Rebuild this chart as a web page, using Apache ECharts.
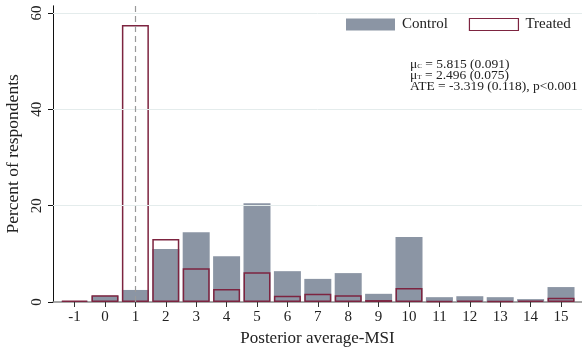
<!DOCTYPE html>
<html><head><meta charset="utf-8">
<script src="https://cdn.jsdelivr.net/npm/echarts@6/dist/echarts.min.js"></script>
<style>html,body{margin:0;padding:0;background:#fff}#c{width:582px;height:352px}</style>
</head><body><div id="c"></div>
<script>
const categories = [-1,0,1,2,3,4,5,6,7,8,9,10,11,12,13,14,15];
const controlValues = [0.2,1.3,2.5,11.0,14.5,9.5,20.5,6.4,4.8,6.0,1.7,13.5,1.0,1.2,1.0,0.6,3.1];
const treatedValues = [0.3,1.4,57.5,13.1,7.0,2.7,6.2,1.3,1.7,1.4,0.4,2.9,0.2,0.3,0.2,0.3,0.9];
const yTicks = [0,20,40,60];
const gridLines = [20,40,60];
const refLineX = 1;

const font = '"Liberation Serif", "DejaVu Serif", serif';
const chart = echarts.init(document.getElementById('c'));
chart.setOption({
  animation:false,
  textStyle:{fontFamily:font},
  grid:{left:53,right:0,top:5.8,bottom:50,containLabel:false,outerBoundsMode:'none'},
  legend:{
    left:346, top:17, padding:0, itemWidth:49, itemHeight:12, itemGap:21,
    textStyle:{fontFamily:font,fontSize:15,color:'#222',padding:[0,0,0,2]},
    data:[
      {name:'Control',icon:'rect',itemStyle:{color:'#8b95a4',borderWidth:0}},
      {name:'Treated',icon:'rect',itemStyle:{color:'#fff',borderColor:'#7d2440',borderWidth:1.2}}
    ]
  },
  xAxis:{
    type:'value', min:-1.71, max:15.69,
    name:'Posterior average-MSI', nameLocation:'middle', nameGap:28,
    nameTextStyle:{fontFamily:font,fontSize:17,color:'#222'},
    axisLine:{show:true,onZero:false,lineStyle:{color:'#8a8a8a',width:1.5}},
    axisTick:{show:true,customValues:categories,length:5,lineStyle:{color:'#333'}},
    axisLabel:{customValues:categories,fontFamily:font,fontSize:15,color:'#222',margin:8},
    splitLine:{show:false}
  },
  yAxis:{
    type:'value', min:0, max:61.5,
    name:'Percent of respondents', nameLocation:'middle', nameGap:27,
    nameTextStyle:{fontFamily:font,fontSize:17.5,color:'#222'},
    axisLine:{show:true,onZero:false,lineStyle:{color:'#111',width:1}},
    axisTick:{show:true,customValues:yTicks,length:5,lineStyle:{color:'#111'}},
    axisLabel:{customValues:yTicks,rotate:90,fontFamily:font,fontSize:15,color:'#222',margin:8},
    splitLine:{show:false}
  },
  series:[
    {
      name:'grid', type:'line', data:[], silent:true,
      markLine:{silent:true,symbol:'none',label:{show:false},
        lineStyle:{color:'#e4ecec',type:'solid',width:1},
        data:gridLines.map(v=>({yAxis:v}))}
    },
    {
      name:'Control', type:'bar', barWidth:27, barGap:'-100%', z:2,
      itemStyle:{color:'#8b95a4'},
      data:categories.map((c,i)=>[c,controlValues[i]])
    },
    {
      name:'Treated', type:'bar', barWidth:27, barGap:'-100%', z:3,
      itemStyle:{color:'rgba(0,0,0,0)',borderColor:'#7d2440',borderWidth:1.5},
      data:categories.map((c,i)=>[c,treatedValues[i]]),
      markLine:{silent:true,symbol:'none',label:{show:false},z:5,
        lineStyle:{color:'#999',type:[6,4],width:1.2},
        data:[{xAxis:refLineX}]}
    }
  ],
  graphic:[{
    type:'text', left:410, top:57,
    style:{
      text:'μ{s|C} = 5.815 (0.091)\nμ{s|T} = 2.496 (0.075)\nATE = -3.319 (0.118), p<0.001',
      fontFamily:font, fontSize:13.5, lineHeight:11, fill:'#222',
      rich:{s:{fontSize:7,fontFamily:font,fill:'#222',verticalAlign:'bottom',lineHeight:11,padding:[4,0,0,0]}}
    }
  }]
});
</script></body></html>
